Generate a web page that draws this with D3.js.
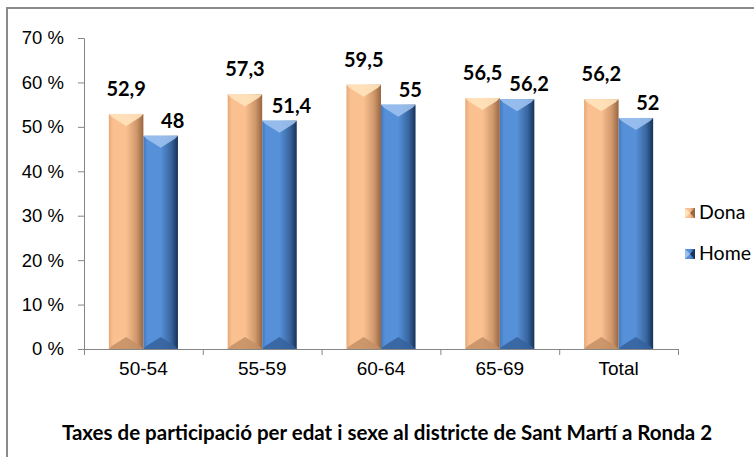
<!DOCTYPE html>
<html>
<head>
<meta charset="utf-8">
<script src="https://cdn.jsdelivr.net/npm/d3@7"></script>
<style>
  body { margin: 0; background: #fff; }
  svg { display: block; font-family: Lato, "Open Sans", sans-serif; }
</style>
</head>
<body>
<div id="chart"></div>
<script>
// data
var categories = ["50-54", "55-59", "60-64", "65-69", "Total"];
var series = ["Dona", "Home"];
var dona = [52.9, 57.3, 59.5, 56.5, 56.2];
var home = [48, 51.4, 55, 56.2, 52];
var labelsDona = ["52,9", "57,3", "59,5", "56,5", "56,2"];
var labelsHome = ["48", "51,4", "55", "56,2", "52"];
var yTicks = [0, 10, 20, 30, 40, 50, 60, 70];
var title = "Taxes de participació per edat i sexe al districte de Sant Martí a Ronda 2";

var W = 754, H = 457;
var plot = {left: 84, right: 678, top: 38, bottom: 349};

var svg = d3.select("#chart").append("svg")
    .attr("width", W).attr("height", H);

// colour sets per series
var pal = {
  Dona: {base: "#fac090", light: "#ffe3bd", dark: "#9a6640", left: "#e6a978", bottom: "#c48f66"},
  Home: {base: "#5690d8", light: "#9cc1ee", dark: "#16325a", left: "#4479bd", bottom: "#35619c"}
};
// label placement per series (Excel puts the Home labels a bit to the right and lower)
var labelOffset = {Dona: {dx: 0, dy: -18}, Home: {dx: 12, dy: -8}};

var defs = svg.append("defs");
series.forEach(function(s){
  var p = pal[s];
  var g = defs.append("linearGradient").attr("id", "grad" + s)
      .attr("x1", "0").attr("x2", "1").attr("y1", "0").attr("y2", "0");
  g.append("stop").attr("offset", "0").attr("stop-color", p.left);
  g.append("stop").attr("offset", "0.12").attr("stop-color", p.base);
  g.append("stop").attr("offset", "0.5").attr("stop-color", p.base);
  g.append("stop").attr("offset", "0.8").attr("stop-color", d3.interpolateRgb(p.base, p.dark)(0.45));
  g.append("stop").attr("offset", "1").attr("stop-color", p.dark);
});

// frame
svg.append("path")
    .attr("d", "M7," + H + "V8H" + W)
    .attr("fill", "none").attr("stroke", "#8a8a8a").attr("stroke-width", 2);

var x0 = d3.scaleBand().domain(categories).range([plot.left, plot.right]);
var x1 = d3.scaleBand().domain(series).range([0, x0.bandwidth()]).paddingOuter(0.72);
var y = d3.scaleLinear().domain([0, 70]).range([plot.bottom, plot.top]);

// y axis
var yAxis = d3.axisLeft(y).tickValues(yTicks).tickSize(6).tickPadding(14)
    .tickFormat(function(d){ return d + " %"; });
var ya = svg.append("g").attr("transform", "translate(" + plot.left + ",0)").call(yAxis);
ya.select(".domain").attr("stroke", "#868686");
ya.selectAll(".tick line").attr("stroke", "#868686");
ya.selectAll("text").attr("font-size", 18.5).attr("fill", "#000");

// x axis: tick marks at the band boundaries
var xb = d3.scaleLinear().domain([0, categories.length]).range([plot.left, plot.right]);
var xa = svg.append("g").attr("transform", "translate(0," + plot.bottom + ")")
    .call(d3.axisBottom(xb).tickValues(d3.range(categories.length + 1)).tickSize(6).tickSizeOuter(0).tickFormat(""));
xa.select(".domain").attr("stroke", "#868686");
xa.selectAll(".tick line").attr("stroke", "#868686");
var xl = svg.append("g").attr("transform", "translate(0," + plot.bottom + ")")
    .call(d3.axisBottom(x0).tickSize(0).tickPadding(13));
xl.select(".domain").remove();
xl.selectAll("text").attr("font-size", 19).attr("fill", "#000");

// bars
var rows = [];
categories.forEach(function(c, i){
  rows.push({cat: c, s: "Dona", v: dona[i], lab: labelsDona[i]});
  rows.push({cat: c, s: "Home", v: home[i], lab: labelsHome[i]});
});

var bars = svg.append("g").selectAll("g").data(rows).enter().append("g")
    .attr("transform", function(d){ return "translate(" + (x0(d.cat) + x1(d.s)) + ",0)"; });

var bw = x1.bandwidth();
var bev = 12;
bars.append("rect")
    .attr("x", 0).attr("width", bw)
    .attr("y", function(d){ return y(d.v); })
    .attr("height", function(d){ return y(0) - y(d.v); })
    .attr("fill", function(d){ return "url(#grad" + d.s + ")"; });
// top bevel
bars.append("path")
    .attr("d", function(d){
      var t = y(d.v);
      return "M0," + t + "H" + bw + "L" + (bw - 3) + "," + (t + 3) + "L" + (bw / 2) + "," + (t + bev) +
        "L3," + (t + 3) + "Z";
    })
    .attr("fill", function(d){ return pal[d.s].light; }).attr("opacity", 0.9);
// bottom bevel
bars.append("path")
    .attr("d", function(d){
      var b = y(0);
      return "M0," + b + "H" + bw + "L" + (bw - 3) + "," + (b - 3) + "L" + (bw / 2) + "," + (b - bev) +
        "L3," + (b - 3) + "Z";
    })
    .attr("fill", function(d){ return pal[d.s].bottom; }).attr("opacity", 0.85);

// value labels
bars.append("text")
    .attr("x", function(d){ return bw / 2 + labelOffset[d.s].dx; })
    .attr("y", function(d){ return y(d.v) + labelOffset[d.s].dy; })
    .attr("text-anchor", "middle")
    .attr("font-size", 20).attr("font-weight", "bold")
    .text(function(d){ return d.lab; });

// legend
var leg = svg.append("g").selectAll("g").data(series).enter().append("g")
    .attr("transform", function(d, i){ return "translate(685," + (208 + i * 41) + ")"; });
leg.append("rect").attr("width", 10).attr("height", 10)
    .attr("fill", function(d){ return "url(#grad" + d + ")"; });
leg.append("path").attr("d", "M0,0L5,5L0,10Z").attr("fill", function(d){ return pal[d].light; });
leg.append("path").attr("d", "M10,0L5,5L10,10Z").attr("fill", function(d){ return pal[d].dark; });
leg.append("text").attr("x", 14).attr("y", 11).attr("font-size", 19.5).text(function(d){ return d; });

// title
svg.append("text")
    .attr("x", 387).attr("y", 440)
    .attr("text-anchor", "middle")
    .attr("font-size", 20.5).attr("font-weight", "bold")
    .text(title);
</script>
</body>
</html>
